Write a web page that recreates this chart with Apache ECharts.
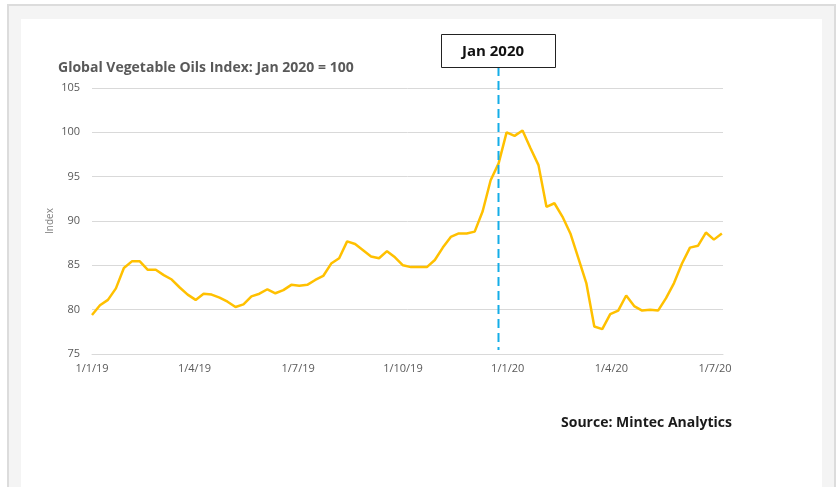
<!DOCTYPE html>
<html>
<head>
<meta charset="utf-8">
<style>
  html, body { margin: 0; padding: 0; background: #ffffff; }
  #chart { width: 838px; height: 487px; }
</style>
<script src="https://cdn.jsdelivr.net/npm/echarts@6/dist/echarts.min.js"></script>
</head>
<body>
<div id="chart"></div>
<script>
// Weekly index readings, first week starting 1 Jan 2019 (Jan 2020 = 100)
const startDate = [2019, 0, 1];
const indexValues = [
  79.4, 80.5, 81.1, 82.4, 84.7, 85.45, 85.45, 84.5, 84.5, 83.9,
  83.4, 82.5, 81.7, 81.1, 81.8, 81.7, 81.35, 80.9, 80.3, 80.6,
  81.5, 81.8, 82.3, 81.85, 82.2, 82.8, 82.7, 82.8, 83.35, 83.8,
  85.2, 85.8, 87.7, 87.4, 86.7, 86.0, 85.8, 86.6, 85.9, 85.0,
  84.8, 84.8, 84.8, 85.6, 87.0, 88.2, 88.6, 88.6, 88.8, 91.1,
  94.6, 96.5, 100.0, 99.6, 100.2, 98.2, 96.3, 91.6, 92.0, 90.5,
  88.6, 85.8, 83.0, 78.1, 77.8, 79.5, 79.9, 81.6, 80.4, 79.9,
  80.0, 79.9, 81.3, 83.0, 85.2, 87.0, 87.2, 88.7, 87.9, 88.6
];

// Quarterly axis labels
const tickDates = ['2019-01-01', '2019-04-01', '2019-07-01', '2019-10-01', '2020-01-01', '2020-04-01', '2020-07-01'];
const tickLabels = ['1/1/19', '1/4/19', '1/7/19', '1/10/19', '1/1/20', '1/4/20', '1/7/20'];

// Y axis range
const yMin = 75, yMax = 105, yStep = 5;

// Reference marker week and its caption
const markerDate = '2019-12-24';
const markerText = 'Jan 2020';

const titleText = 'Global Vegetable Oils Index: Jan 2020 = 100';
const sourceText = 'Source: Mintec Analytics';

function parseDay(s) {
  const p = s.split('-').map(Number);
  return new Date(p[0], p[1] - 1, p[2]).getTime();
}

const seriesData = indexValues.map((v, i) => [
  new Date(startDate[0], startDate[1], startDate[2] + 7 * i).getTime(), v
]);
const tickTimes = tickDates.map(parseDay);

const FONT = '"Open Sans", "Noto Sans", sans-serif';
const chart = echarts.init(document.getElementById('chart'), null, { renderer: 'canvas' });

function frameAndNotes(mx, yBottom) {
  const boxW = 114, boxH = 33, boxTop = 34;
  const items = [
    // page frame
    { type: 'rect', z: -100, silent: true,
      shape: { x: 8, y: 5, width: 827, height: 500 },
      style: { fill: '#f4f4f4', stroke: '#dcdcdc', lineWidth: 2 } },
    { type: 'rect', z: -99, silent: true,
      shape: { x: 21, y: 19, width: 801, height: 500 },
      style: { fill: '#ffffff' } },
    // source note
    { type: 'text', left: 561, top: 416, silent: true,
      style: { text: sourceText, font: 'bold 14px ' + FONT, fill: '#1a1a1a' } }
  ];
  if (mx != null) {
    const x = Math.round(mx) - 0.5;
    items.push(
      { type: 'line', z: 5, silent: true,
        shape: { x1: x, y1: boxTop + boxH, x2: x, y2: yBottom },
        style: { stroke: '#14ade8', lineWidth: 2, lineDash: [9, 5] } },
      { type: 'rect', z: 6, silent: true,
        shape: { x: Math.round(mx - boxW / 2) - 0.5, y: boxTop + 0.5, width: boxW, height: boxH },
        style: { fill: '#ffffff', stroke: '#222222', lineWidth: 1 } },
      { type: 'text', z: 7, silent: true,
        x: Math.round(mx) - 6, y: boxTop + boxH / 2 + 1,
        style: { text: markerText, font: 'bold 15px ' + FONT, fill: '#111111',
                 align: 'center', verticalAlign: 'middle' } }
    );
  }
  return items;
}

const option = {
  backgroundColor: '#ffffff',
  animation: false,
  title: {
    text: titleText,
    left: 53,
    top: 56,
    textStyle: { fontFamily: FONT, fontSize: 14, fontWeight: 'bold', color: '#595959' }
  },
  grid: { left: 92, right: 115, top: 88, bottom: 133, containLabel: false },
  xAxis: {
    type: 'value',
    min: parseDay('2019-01-01'),
    max: parseDay('2020-07-08'),
    axisLine: { show: true, lineStyle: { color: '#d9d9d9', width: 1 } },
    axisTick: { show: false },
    splitLine: { show: false },
    axisLabel: {
      customValues: tickTimes,
      margin: 9,
      fontFamily: FONT,
      fontSize: 11,
      color: '#595959',
      formatter: function (val) {
        const idx = tickTimes.indexOf(val);
        return idx >= 0 ? tickLabels[idx] : '';
      }
    }
  },
  yAxis: {
    type: 'value',
    min: yMin,
    max: yMax,
    interval: yStep,
    name: 'Index',
    nameLocation: 'middle',
    nameRotate: 90,
    nameGap: 37,
    nameMoveOverlap: false,
    nameTextStyle: { fontFamily: FONT, fontSize: 10, color: '#7f7f7f' },
    axisLine: { show: false },
    axisTick: { show: false },
    splitLine: { lineStyle: { color: '#d9d9d9', width: 1 } },
    axisLabel: { margin: 12, fontFamily: FONT, fontSize: 11, color: '#595959' }
  },
  series: [{
    type: 'line',
    data: seriesData,
    showSymbol: false,
    smooth: false,
    lineStyle: { color: '#FFC000', width: 2.5 },
    itemStyle: { color: '#FFC000' },
    z: 3
  }],
  graphic: frameAndNotes(null, 0)
};
chart.setOption(option);

// Vertical marker and its caption box, placed through the axis scale
const mx = chart.convertToPixel({ xAxisIndex: 0 }, parseDay(markerDate));
const yBottom = chart.convertToPixel({ yAxisIndex: 0 }, yMin) - 4;
chart.setOption({ graphic: frameAndNotes(mx, yBottom) }, { replaceMerge: ['graphic'] });
</script>
</body>
</html>
